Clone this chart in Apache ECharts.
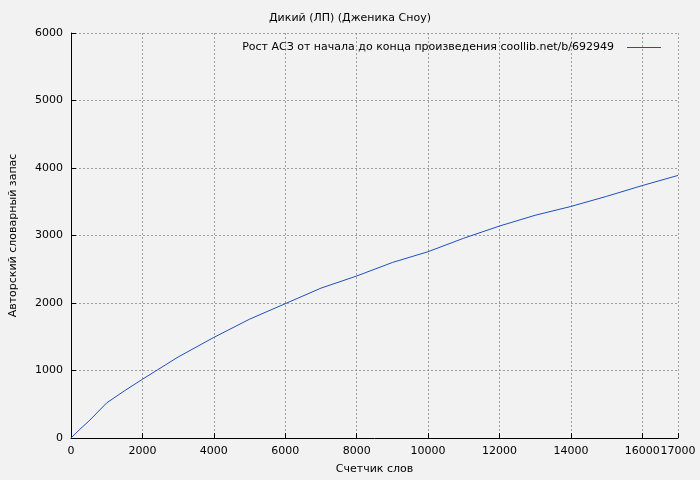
<!DOCTYPE html>
<html><head><meta charset="utf-8">
<script src="https://cdn.jsdelivr.net/npm/echarts@6/dist/echarts.min.js"></script>
<style>html,body{margin:0;padding:0;background:#f2f2f2}#c{width:700px;height:480px}</style>
</head><body><div id="c"></div>
<script>
const words = [0,250,500,1000,1500,2000,3000,4000,5000,6000,7000,8000,9000,10000,11000,12000,13000,14000,15000,16000,17000];
const vocab = [0,130,250,520,700,870,1200,1490,1760,1990,2220,2400,2600,2760,2960,3140,3300,3430,3580,3740,3890];
const title = 'Дикий (ЛП) (Дженика Сноу)';
const seriesName = 'Рост АСЗ от начала до конца произведения coollib.net/b/692949';
const chart = echarts.init(document.getElementById('c'));
const txt = {color:'#000',fontFamily:'DejaVu Sans',fontSize:11};
const grid = {show:true,lineStyle:{color:'#888',type:[2,2],width:0.8}};
const fmt = v => String(v);
chart.setOption({
  backgroundColor:'#f2f2f2',
  animation:false,
  title:{text:title,left:'center',top:8,textStyle:{...txt,fontWeight:'normal'}},
  legend:{top:37,right:34,itemWidth:34,itemHeight:2,itemGap:0,align:'right',
    textStyle:{...txt,padding:[0,8,0,0]},data:[{name:seriesName,icon:'path://M0,0H34V1H0Z'}]},
  grid:{left:67,right:22,top:33,bottom:41},
  xAxis:{type:'value',min:0,max:17000,interval:2000,name:'Счетчик слов',nameLocation:'middle',nameGap:26,
    nameTextStyle:txt,axisLabel:{...txt,formatter:fmt},axisLine:{lineStyle:{color:'#000'}},axisTick:{inside:true,lineStyle:{color:'#000'}},splitLine:grid},
  yAxis:{type:'value',min:0,max:6000,interval:1000,name:'Авторский словарный запас',nameLocation:'middle',nameGap:52,
    nameTextStyle:txt,axisLabel:{...txt,formatter:fmt},axisLine:{show:true,lineStyle:{color:'#000'}},axisTick:{show:true,inside:true,lineStyle:{color:'#000'}},splitLine:grid},
  series:[{name:seriesName,type:'line',showSymbol:false,data:words.map((w,i)=>[w,vocab[i]]),
    lineStyle:{color:'#1f4fbf',width:1},itemStyle:{color:'#1f4fbf'}}]
});
</script></body></html>
